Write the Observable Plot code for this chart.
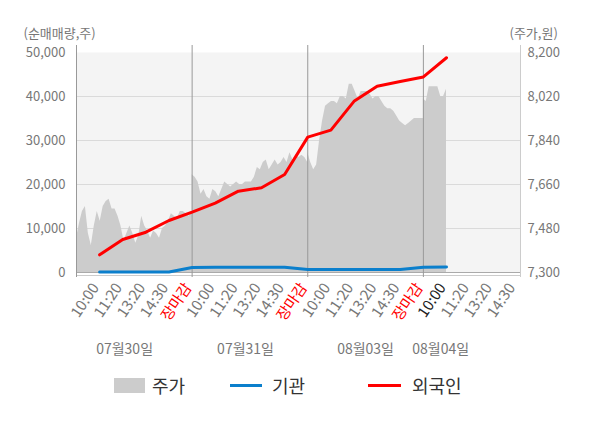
<!DOCTYPE html>
<html>
<head>
<meta charset="utf-8">
<script src="https://cdn.jsdelivr.net/npm/d3@7"></script>
<script src="https://cdn.jsdelivr.net/npm/@observablehq/plot@0.6"></script>
<style>
  html, body { margin: 0; padding: 0; background: #fff; }
  body { width: 600px; height: 428px; position: relative; overflow: hidden; font-family: "Noto Sans CJK KR", "Noto Sans", sans-serif; }
  #legend { position: absolute; left: 0; top: 370px; width: 600px; height: 30px; }
  .lg { position: absolute; }
  .lgtext { position: absolute; top: 0; line-height: 30px; font-size: 18px; color: #333; }
</style>
</head>
<body>
<div id="chart"></div>
<div id="legend">
  <div class="lg" style="left:114px;top:8px;width:31px;height:15px;background:#cccccc"></div>
  <div class="lgtext" style="left:152px">주가</div>
  <div class="lg" style="left:230px;top:14px;width:32px;height:3px;background:#0b7fcc"></div>
  <div class="lgtext" style="left:272px">기관</div>
  <div class="lg" style="left:368px;top:14px;width:33px;height:3px;background:#ff0000"></div>
  <div class="lgtext" style="left:412px">외국인</div>
</div>
<script>
// ---- data ----
const dates = ["07월30일", "07월31일", "08월03일", "08월04일"];
const dateLabelSlot = [2.08, 7.31, 12.5, 15.75];
const sessionTicks = ["10:00", "11:20", "13:20", "14:30", "장마감"];
const currentTickSlot = 16;

// price (주가, 원) sampled evenly through each session
const day1Price = [7440,7500,7550,7570,7460,7410,7490,7550,7510,7570,7590,7600,7560,7560,7530,7490,7430,7460,7490,7460,7420,7450,7530,7490,7470,7440,7470,7460,7440,7480,7490,7510,7540,7530,7520,7550,7550,7540,7530,7550];
const day2Price = [7700,7690,7670,7620,7640,7610,7600,7640,7630,7610,7640,7670,7660,7650,7660,7670,7660,7660,7670,7670,7670,7690,7730,7720,7750,7760,7720,7740,7760,7740,7750,7770,7750,7790,7760,7780,7770,7780,7770,7750];
const day3Price = [7790,7750,7720,7740,7840,7920,7980,7990,8000,8000,7990,8020,8020,8010,8070,8070,8040,8010,8040,8040,8040,8030,8010,8020,8020,8000,7980,7970,7970,7960,7940,7920,7910,7900,7910,7920,7930,7930,7930,7930];
const day4Price = [8010,8000,8060,8060,8060,8060,8020,8020,8050];
const sessionSpan = [5, 5, 5, 1]; // slots covered by each day's data (day 4 up to 10:00)

// cumulative net buying (순매매량, 주) at each snapshot slot 1..16
const foreignNet = [4020,7500,9160,11820,13710,15750,18480,19250,22280,30760,32350,38900,42350,43400,44450,48800];
const instNet    = [100,100,100,100,1150,1200,1200,1200,1200,700,700,700,700,700,1200,1250];

const volTicks = [0, 10000, 20000, 30000, 40000, 50000];
const priceMin = 7300, priceMax = 8200, volMax = 50000;

// ---- build tables ----
const toLeft = p => (p - priceMin) / (priceMax - priceMin) * volMax;
const toPrice = v => priceMin + v / volMax * (priceMax - priceMin);
const priceRows = [];
[day1Price, day2Price, day3Price, day4Price].forEach((arr, d) => {
  arr.forEach((p, i) => priceRows.push({slot: d * 5 + i * sessionSpan[d] / (arr.length - 1), price: p, yv: toLeft(p)}));
});
const foreignRows = foreignNet.map((v, i) => ({slot: i + 1, v}));
const instRows = instNet.map((v, i) => ({slot: i + 1, v}));
const xTickRows = [];
for (let d = 0; d < 4; d++) {
  sessionTicks.forEach((lab, j) => {
    const slot = d * 5 + j + 1;
    if (slot > 19) return;
    xTickRows.push({slot, label: lab, color: lab === "장마감" ? "#ff0000" : (slot === currentTickSlot ? "#222" : "#777")});
  });
}
const dateRows = dates.map((label, i) => ({slot: dateLabelSlot[i], label}));

const font = '"Noto Sans CJK KR", "Noto Sans", sans-serif';
const chart = Plot.plot({
  width: 600,
  height: 370,
  marginTop: 52,
  marginBottom: 98,
  marginLeft: 76,
  marginRight: 80,
  x: {domain: [0, 19.2], axis: null},
  y: {domain: [0, volMax], axis: null},
  style: {fontFamily: font, fontSize: "13px", overflow: "visible", background: "transparent"},
  marks: [
    Plot.frame({fill: "#f4f4f4", stroke: null}),
    Plot.ruleY(volTicks.filter(v => v > 0 && v < volMax), {stroke: "#dadada"}),
    Plot.areaY(priceRows, {x: "slot", y1: 0, y2: "yv", fill: "#cccccc"}),
    Plot.ruleY([0], {stroke: "#aaa"}),
    Plot.ruleY([0], {stroke: "#ccc", dy: 3}),
    Plot.ruleX([0, 5, 10, 15], {stroke: "#999", insetTop: -7, insetBottom: -5}),
    Plot.ruleX([19.2], {stroke: "#ccc", insetTop: -7, insetBottom: -5}),
    Plot.line(instRows, {x: "slot", y: "v", stroke: "#0b7fcc", strokeWidth: 3}),
    Plot.line(foreignRows, {x: "slot", y: "v", stroke: "#ff0000", strokeWidth: 3}),
    Plot.axisY({anchor: "left", ticks: volTicks, tickSize: 0, tickPadding: 11, label: null, tickFormat: d3.format(","), fill: "#777", fontSize: 13}),
    Plot.axisY({anchor: "right", ticks: volTicks, tickSize: 0, tickPadding: 7, label: null, tickFormat: v => d3.format(",")(Math.round(toPrice(v))), fill: "#777", fontSize: 13}),
    Plot.text(["(순매매량,주)"], {frameAnchor: "top-left", dx: -53, dy: -24, textAnchor: "start", fill: "#777", fontSize: 13}),
    Plot.text(["(주가,원)"], {frameAnchor: "top-right", dx: -11, dy: -24, textAnchor: "start", fill: "#777", fontSize: 13}),
    Plot.text(xTickRows, {x: "slot", text: "label", fill: "color", frameAnchor: "bottom", rotate: -56, textAnchor: "end", dy: 15, fontSize: 15}),
    Plot.text(dateRows, {x: "slot", text: "label", frameAnchor: "bottom", dy: 81, fill: "#777", fontSize: 14})
  ]
});
document.getElementById("chart").appendChild(chart);
</script>
</body>
</html>
